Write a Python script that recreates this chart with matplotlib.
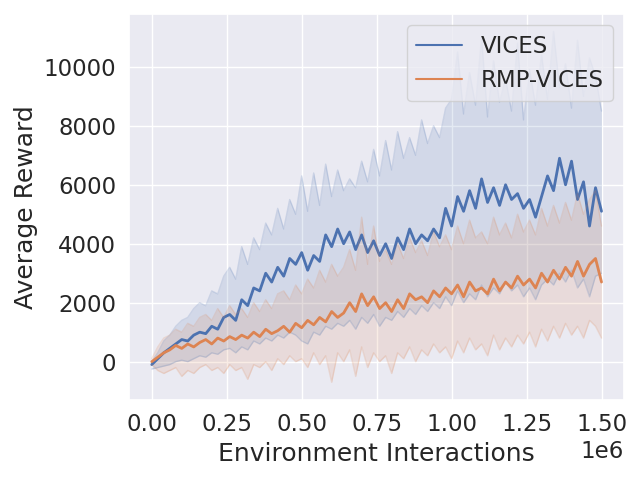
import numpy as np
import seaborn as sns
from matplotlib import pyplot as plt
from matplotlib.lines import Line2D

sns.set_theme(style="darkgrid", font_scale=1.5)

# environment interactions, one sample every 20k steps
steps = np.arange(0, 1500001, 20000)

vices_mean = [-100, 100, 300, 450, 600, 750, 700, 900, 1000, 950,
              1200, 1100, 1500, 1600, 1400, 2100, 1900, 2500, 2400, 3000,
              2700, 3200, 2900, 3500, 3300, 3700, 3100, 3600, 3400, 4300,
              3900, 4500, 4000, 4400, 3800, 4300, 3700, 4100, 3600, 4000,
              3500, 4200, 3800, 4500, 4000, 4300, 4100, 4500, 4200, 5200,
              4600, 5600, 5100, 5800, 5200, 6200, 5400, 5900, 5300, 6000,
              5500, 5700, 5200, 5500, 4900, 5600, 6300, 5800, 6900, 6000,
              6800, 5500, 6100, 4600, 5900, 5100]
vices_hi = [0, 300, 700, 900, 1200, 1400, 1500, 1800, 2000, 1900,
            2400, 2300, 2900, 3200, 2800, 3900, 3300, 4200, 3800, 4700,
            4300, 5200, 4500, 5500, 5000, 6300, 5100, 6400, 5300, 6700,
            5600, 6500, 5800, 6200, 5900, 6800, 6100, 7200, 6300, 7500,
            6500, 7800, 6900, 7600, 7000, 8200, 7400, 8000, 7600, 8600,
            8900, 10500, 8400, 9800, 8700, 11000, 8300, 10200, 8800, 9600,
            8500, 10800, 8200, 9900, 8700, 10400, 8900, 11200, 9300, 10100,
            8600, 10900, 9000, 10300, 9700, 8500]
vices_lo = [-250, -200, -150, -100, 0, 50, 0, 100, 200, 150,
            300, 250, 400, 450, 300, 500, 400, 700, 600, 800,
            700, 900, 800, 1000, 900, 700, 600, 1000, 900, 1200,
            1100, 1300, 1200, 1400, 1100, 1500, 1300, 1600, 1200, 1500,
            1400, 1700, 1500, 1800, 1600, 1900, 1700, 2000, 1800, 2200,
            1900, 2400, 2000, 2300, 2100, 2600, 2200, 2500, 2300, 2700,
            2400, 2600, 2200, 2500, 2100, 2600, 2800, 2600, 3000, 2700,
            3100, 2500, 2800, 2200, 2900, 3000]

rmp_mean = [0, 150, 300, 400, 550, 450, 600, 500, 650, 750,
            600, 800, 700, 850, 750, 900, 800, 1000, 850, 1100,
            950, 1050, 1200, 1000, 1300, 1150, 1400, 1250, 1500, 1350,
            1700, 1500, 1650, 2000, 1700, 2300, 1900, 2200, 1800, 2000,
            1700, 2100, 1800, 2300, 2100, 2200, 2000, 2400, 2200, 2500,
            2300, 2600, 2200, 2700, 2400, 2500, 2300, 2800, 2400, 2700,
            2500, 2900, 2600, 2800, 2500, 3000, 2700, 3100, 2800, 3200,
            2900, 3400, 2900, 3300, 3500, 2700]
rmp_hi = [100, 500, 800, 900, 1100, 1000, 1300, 1200, 1500, 1600,
          1400, 1800, 1500, 1900, 1600, 1800, 1500, 2000, 1700, 2100,
          1800, 2300, 2400, 2100, 2600, 2300, 2800, 2500, 3100, 2700,
          3300, 2900, 3200, 3800, 3100, 4900, 3300, 4600, 3400, 3800,
          3300, 4000, 3500, 4200, 3700, 4100, 3600, 4400, 3900, 4300,
          3800, 4600, 4000, 4800, 4200, 4400, 4000, 4900, 4300, 4700,
          4200, 5000, 4400, 4800, 4300, 5200, 4600, 5300, 4700, 5400,
          4800, 5700, 5000, 5500, 5800, 4600]
rmp_lo = [-100, -300, -400, -300, -200, -500, -300, -400, -200, -100,
          -300, -200, -400, -100, -300, -200, -600, -100, -200, 0,
          -300, 100, -100, 200, 0, 100, -200, 300, -100, 200,
          -700, 300, 0, 400, -500, 500, -200, 300, 0, 200,
          -400, 300, 100, 500, 0, 400, 200, 600, 300, 500,
          100, 700, 300, 800, 400, 600, 200, 900, 400, 800,
          500, 900, 600, 1000, 500, 1100, 700, 1200, 800, 1300,
          900, 1200, 800, 1400, 1200, 800]

blue, orange = sns.color_palette()[0], sns.color_palette()[1]

fig, ax = plt.subplots(figsize=(6.4, 4.8), dpi=100)

for mean, lo, hi, c in [(vices_mean, vices_lo, vices_hi, blue),
                        (rmp_mean, rmp_lo, rmp_hi, orange)]:
    ax.fill_between(steps, lo, hi, color=c, alpha=0.15, linewidth=0)
    ax.plot(steps, lo, color=c, alpha=0.2, lw=1)
    ax.plot(steps, hi, color=c, alpha=0.2, lw=1)
    ax.plot(steps, mean, color=c, lw=2)

ax.set_xticks(np.arange(0, 1500001, 250000))
ax.set_xlabel("Environment Interactions")
ax.set_ylabel("Average Reward")
handles = [Line2D([], [], color=blue, lw=1.5), Line2D([], [], color=orange, lw=1.5)]
ax.legend(handles, ["VICES", "RMP-VICES"], loc="upper right")

plt.subplots_adjust(left=0.202, right=0.975, top=0.971, bottom=0.167)
plt.savefig("out.png")
